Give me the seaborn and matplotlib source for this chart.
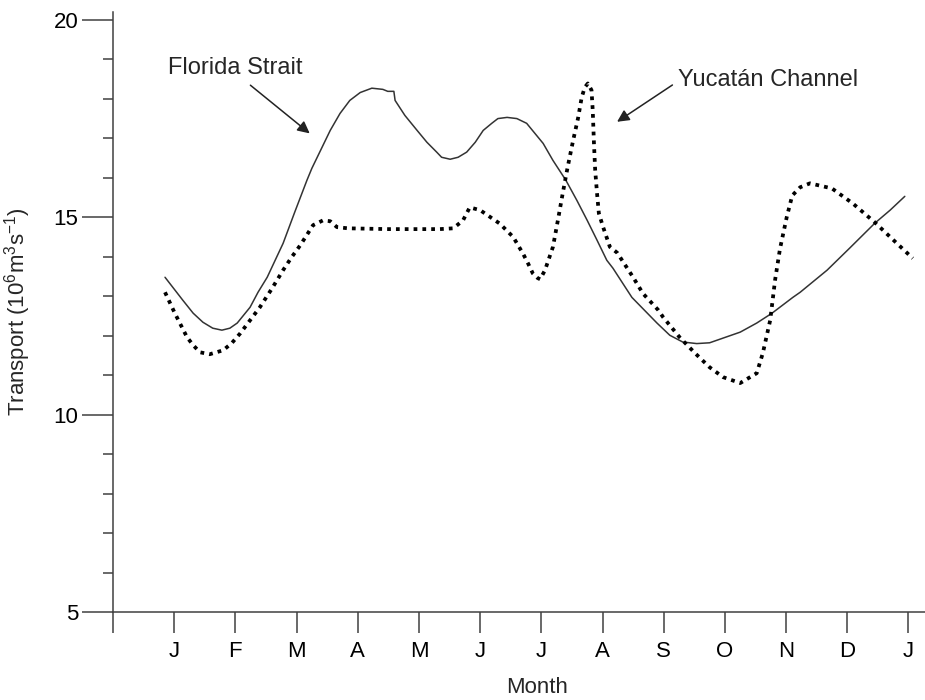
import matplotlib
matplotlib.use("Agg")
import matplotlib.pyplot as plt
import seaborn as sns
import numpy as np

### Dados
meses = ["J", "F", "M", "A", "M", "J", "J", "A", "S", "O", "N", "D", "J"]
pos_meses = list(range(1, 14))

florida_x = [0.85, 1.14, 1.31, 1.47, 1.63, 1.78, 1.91, 2.03, 2.24, 2.37, 2.52, 2.78, 2.97,
             3.17, 3.25, 3.55, 3.71, 3.87, 4.04, 4.23, 4.41, 4.49, 4.59, 4.61, 4.77,
             4.97, 5.13, 5.29, 5.37, 5.51, 5.64, 5.78, 5.92, 6.05, 6.19, 6.29, 6.44,
             6.60, 6.76, 7.03, 7.19, 7.40, 7.58, 7.75, 7.91, 8.07, 8.17, 8.48, 8.89,
             9.10, 9.31, 9.54, 9.75, 10.25, 10.52, 10.77, 11.11, 11.23, 11.67, 12.04,
             12.45, 12.70, 12.94]
florida_y = [13.48, 12.90, 12.57, 12.34, 12.19, 12.14, 12.19, 12.32, 12.72, 13.10, 13.48, 14.34, 15.13,
             15.94, 16.24, 17.20, 17.63, 17.96, 18.16, 18.27, 18.24, 18.19, 18.19, 17.96, 17.58,
             17.20, 16.90, 16.65, 16.52, 16.47, 16.52, 16.65, 16.90, 17.20, 17.38, 17.50, 17.53,
             17.50, 17.38, 16.87, 16.44, 15.94, 15.43, 14.92, 14.42, 13.91, 13.71, 12.97, 12.32,
             12.01, 11.84, 11.80, 11.82, 12.09, 12.32, 12.57, 12.97, 13.10, 13.66, 14.22,
             14.85, 15.18, 15.53]

yucatan_x = [0.85, 1.01, 1.21, 1.31, 1.42, 1.58, 1.80, 1.94, 2.08, 2.24, 2.40, 2.60, 2.78,
             2.92, 3.06, 3.27, 3.43, 3.55, 3.66, 3.84, 4.50, 5.34, 5.56, 5.72, 5.83,
             6.00, 6.32, 6.54, 6.70, 6.78, 6.86, 6.94, 6.98, 7.06, 7.19, 7.27, 7.35,
             7.43, 7.52, 7.60, 7.66, 7.71, 7.76, 7.82, 7.84, 7.86, 7.88, 7.91, 7.94,
             8.01, 8.12, 8.24, 8.50, 8.66, 8.91, 8.99, 9.26, 9.51, 9.75, 9.97, 10.25,
             10.52, 10.62, 10.74, 10.82, 10.90, 11.01, 11.10, 11.23, 11.39, 11.75,
             12.09, 12.45, 12.81, 13.07]
yucatan_y = [13.10, 12.57, 11.96, 11.76, 11.58, 11.53, 11.63, 11.81, 12.06, 12.39, 12.72, 13.20, 13.66,
             13.99, 14.29, 14.80, 14.92, 14.90, 14.75, 14.72, 14.70, 14.70, 14.72, 14.92, 15.25,
             15.18, 14.84, 14.50, 14.08, 13.84, 13.58, 13.46, 13.43, 13.66, 14.25, 14.92, 15.61,
             16.27, 16.95, 17.51, 18.04, 18.29, 18.39, 18.22, 17.71, 16.87, 16.19, 15.61, 15.10,
             14.75, 14.25, 14.10, 13.48, 13.07, 12.65, 12.47, 11.96, 11.56, 11.20, 10.95, 10.80,
             11.05, 11.56, 12.39, 13.41, 14.20, 15.00, 15.55, 15.76, 15.86, 15.73,
             15.35, 14.87, 14.34, 13.96]

### Estilo
sns.set_theme(style="ticks")
plt.rcParams["font.family"] = ["Liberation Sans", "DejaVu Sans"]
plt.rcParams["mathtext.default"] = "regular"

cor_eixo = "#404040"

fig = plt.figure(figsize=(9.25, 7), dpi=100)
ax = fig.add_axes([113/925, 88/700, 812/925, 600/700])

sns.lineplot(x=florida_x, y=florida_y, sort=False, estimator=None, ax=ax,
             color="#333333", linewidth=1.1)
sns.lineplot(x=yucatan_x, y=yucatan_y, sort=False, estimator=None, ax=ax,
             color="black", linewidth=2.7, linestyle=(0, (1, 1.35)))

ax.set_xlim(0, 13.27)
ax.set_ylim(5, 20.2)

ax.spines["top"].set_visible(False)
ax.spines["right"].set_visible(False)
for lado in ["left", "bottom"]:
    ax.spines[lado].set_color(cor_eixo)
    ax.spines[lado].set_linewidth(1.1)

ax.set_xticks([0] + pos_meses)
ax.set_xticklabels([""] + meses)
ax.set_yticks([5, 10, 15, 20])
ax.set_yticks(np.arange(5, 20, 1), minor=True)
ax.tick_params(axis="x", direction="out", length=15, width=1.1, color=cor_eixo,
               labelsize=16, pad=6, labelcolor="black")
ax.tick_params(axis="y", which="major", direction="out", length=22, width=1.1,
               color=cor_eixo, labelsize=16, pad=3, labelcolor="black")
ax.tick_params(axis="y", which="minor", direction="out", length=7, width=1.1,
               color=cor_eixo)

ax.set_xlabel("Month", fontsize=16)
ax.xaxis.set_label_coords(0.522, -0.108)
ax.set_ylabel("Transport (10$^6$m$^3$s$^{-1}$)", fontsize=16)
ax.yaxis.set_label_coords(-0.0985, 0.5)

### Anotações
ax.text(0.90, 18.77, "Florida Strait", fontsize=17, ha="left", va="center")
ax.annotate("", xy=(3.25, 17.08), xytext=(2.21, 18.39),
            arrowprops=dict(arrowstyle="-|>", color="#222222", lw=1.1, mutation_scale=18))
ax.text(9.23, 18.47, "Yucatán Channel", fontsize=17, ha="left", va="center")
ax.annotate("", xy=(8.20, 17.38), xytext=(9.18, 18.39),
            arrowprops=dict(arrowstyle="-|>", color="#222222", lw=1.1, mutation_scale=18))

fig.savefig("out.png", dpi=100)
